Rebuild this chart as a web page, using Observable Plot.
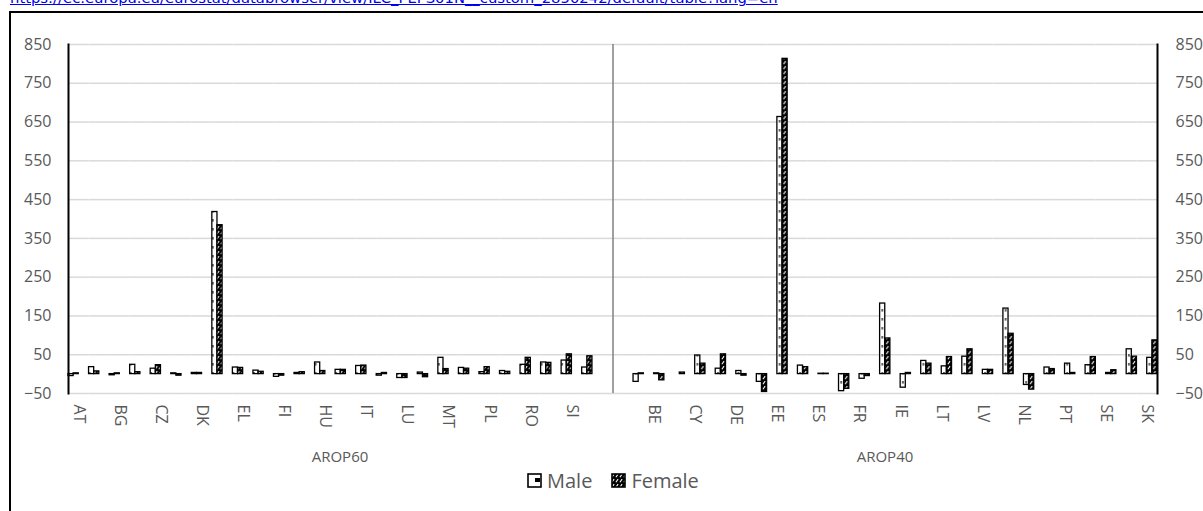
<!DOCTYPE html>
<html><head><meta charset="utf-8">
<script src="https://cdn.jsdelivr.net/npm/d3@7"></script>
<script src="https://cdn.jsdelivr.net/npm/@observablehq/plot@0.6"></script>
<style>
html,body{margin:0;padding:0;background:#fff;width:1203px;height:511px;overflow:hidden;position:relative;font-family:"Open Sans",sans-serif;}
#link{position:absolute;left:10px;top:-11px;font-family:"DejaVu Sans",sans-serif;font-size:14.8px;color:#0000ee;text-decoration:underline;white-space:nowrap;}
#box{position:absolute;left:9px;top:11px;width:1300px;height:600px;border:2px solid #000;box-sizing:border-box;}
#chart{position:absolute;left:0;top:0;}
.group{position:absolute;top:446px;font-size:15px;color:#595959;transform:translateX(-50%);white-space:nowrap;}
#legend{position:absolute;top:467px;left:527px;font-size:20px;color:#595959;white-space:nowrap;display:flex;align-items:center;}
#legend .item{display:inline-flex;align-items:center;margin-right:19px;}
#legend svg{margin-right:5px;}
</style></head>
<body>
<div id="link">https://ec.europa.eu/eurostat/databrowser/view/ILC_PEPS01N__custom_2850242/default/table?lang=en</div>
<div id="box"></div>
<div id="chart"></div>
<div class="group" style="left:340px">AROP60</div>
<div class="group" style="left:885px">AROP40</div>
<div id="legend">
  <span class="item"><svg width="15" height="15"><rect x="1" y="1" width="13" height="13" fill="url(#pmL)" stroke="#000" stroke-width="1.6"/></svg>Male</span>
  <span class="item"><svg width="15" height="15"><rect x="1" y="1" width="13" height="13" fill="url(#pf)" stroke="#000" stroke-width="1.6"/></svg>Female</span>
</div>
<script>
const countries = ["AT","BE","BG","CY","CZ","DE","DK","EE","EL","ES","FI","FR","HU","IE","IT","LT","LU","LV","MT","NL","PL","PT","RO","SE","SI","SK"];
const groups = ["AROP60","AROP40"];
const seriesNames = ["Male","Female"];
const arop60Male   = [-5, 18, -3, 24, 14, 2, 3, 418, 17, 9, -7, 3, 30, 11, 21, -4, -10, 4, 42, 16, 5, 8, 24, 30, 35, 17];
const arop60Female = [2, 7, 2, 5, 23, -4, 3, 384, 16, 6, -4, 5, 8, 11, 22, 3, -10, -8, 13, 14, 18, 6, 42, 29, 51, 46];
const arop40Male   = [-20, 2, 0, 48, 14, 8, -20, 663, 22, 1, -44, -12, 182, -35, 34, 20, 45, 11, 169, -28, 17, 27, 23, 3, 64, 42];
const arop40Female = [2, -16, 4, 27, 51, -4, -46, 813, 18, 1, -38, -5, 92, 3, 27, 44, 64, 11, 104, -40, 13, 3, 44, 10, 45, 87];
const yTicks = [-50, 50, 150, 250, 350, 450, 550, 650, 750, 850];

const GAP = "gap";
const rows = [];
countries.forEach((c, i) => {
  rows.push({cat: groups[0] + "|" + c, s: "M60", sex: seriesNames[0], v: arop60Male[i]});
  rows.push({cat: groups[0] + "|" + c, s: "F60", sex: seriesNames[1], v: arop60Female[i]});
  rows.push({cat: groups[1] + "|" + c, s: "M40", sex: seriesNames[0], v: arop40Male[i]});
  rows.push({cat: groups[1] + "|" + c, s: "F40", sex: seriesNames[1], v: arop40Female[i]});
});
const catDomain = [...countries.map(c => groups[0] + "|" + c), GAP, ...countries.map(c => groups[1] + "|" + c)];
const labelFor = k => { const i = catDomain.indexOf(k); return (i % 2 === 0 && k !== GAP) ? k.split("|")[1] : ""; };

const W = 1203, H = 511, ML = 68, MR = 46, MT = 44, MB = 118;
const step = (W - ML - MR) / catDomain.length;

const plot = Plot.plot({
  width: W, height: H, marginLeft: ML, marginRight: MR, marginTop: MT, marginBottom: MB,
  style: {fontFamily: "Open Sans", fontSize: "16px", color: "#595959", background: "transparent", overflow: "visible"},
  fx: {domain: catDomain, padding: 0, round: false, axis: "bottom", tickSize: 0, tickPadding: 11, tickRotate: 90, tickFormat: labelFor, label: null},
  x: {domain: ["M60", "F60", "M40", "F40"], padding: 0, round: false, axis: null},
  y: {domain: [-50, 850], axis: null},
  marks: [
    Plot.gridY(yTicks, {stroke: "#d9d9d9", strokeOpacity: 1, strokeWidth: 1.5}),
    Plot.ruleX([{cat: GAP, s: "M40"}], {fx: "cat", x: "s", y1: -50, y2: 850, dx: -step / 8, stroke: "#808080", strokeWidth: 1.5}),
    Plot.barY(rows.filter(d => d.sex === "Male"), {fx: "cat", x: "s", y: "v", fill: "url(#pm)", stroke: "black", strokeWidth: 1.3}),
    Plot.barY(rows.filter(d => d.sex === "Female"), {fx: "cat", x: "s", y: "v", fill: "url(#pf)", stroke: "black", strokeWidth: 1.3}),
    Plot.frame({anchor: "left", facetAnchor: "left", stroke: "black", strokeWidth: 2}),
    Plot.frame({anchor: "right", facetAnchor: "right", stroke: "black", strokeWidth: 2}),
    Plot.axisY(yTicks, {anchor: "left", tickSize: 0, tickPadding: 17, label: null}),
    Plot.axisY(yTicks, {anchor: "right", tickSize: 0, tickPadding: 18, label: null})
  ]
});

const ns = "http://www.w3.org/2000/svg";
const defs = document.createElementNS(ns, "defs");
defs.innerHTML = `
<pattern id="pm" patternUnits="userSpaceOnUse" width="6" height="9">
  <rect width="6" height="9" fill="#fff"/>
  <rect x="2.4" y="3" width="1.2" height="2.6" fill="#000"/>
</pattern>
<pattern id="pmL" patternUnits="userSpaceOnUse" width="15" height="15">
  <rect width="15" height="15" fill="#fff"/>
  <rect x="8" y="5" width="5" height="4" fill="#000"/>
</pattern>
<pattern id="pf" patternUnits="userSpaceOnUse" width="4" height="5">
  <rect width="4" height="5" fill="#000"/>
  <line x1="0.9" y1="4.3" x2="3.1" y2="1.1" stroke="#fff" stroke-width="1.1"/>
</pattern>`;
plot.insertBefore(defs, plot.firstChild);
document.getElementById("chart").appendChild(plot);
</script>
</body></html>
